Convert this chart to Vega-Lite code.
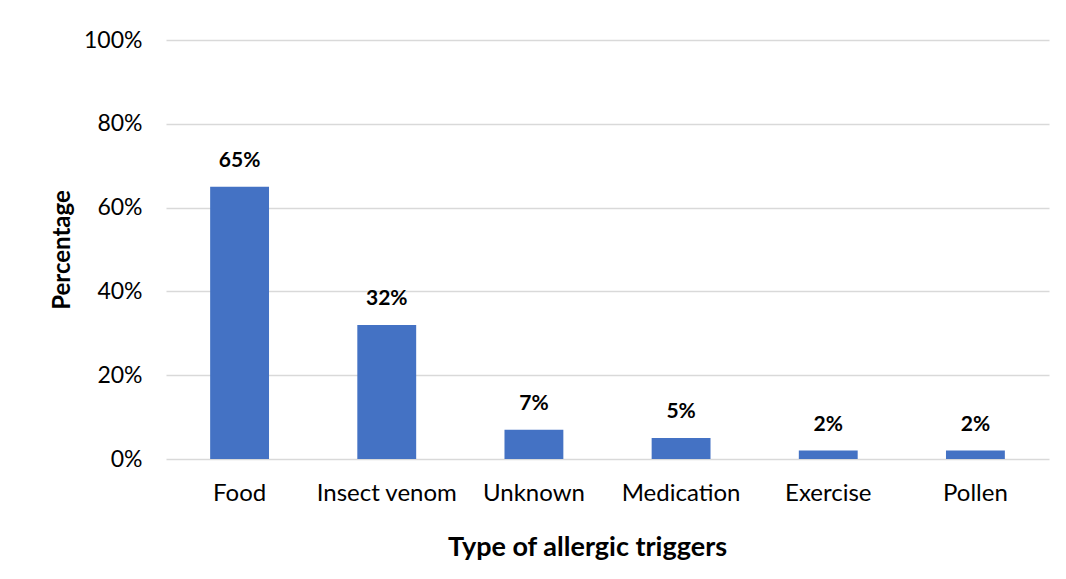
{
  "$schema": "https://vega.github.io/schema/vega-lite/v6.json",
  "autosize": "none",
  "width": 883,
  "height": 419,
  "padding": {"left": 166, "top": 40, "right": 17, "bottom": 120},
  "background": "white",
  "config": {"view": {"stroke": null}, "font": "Lato"},
  "data": {"values": [
    {"trigger": "Food", "pct": 0.65},
    {"trigger": "Insect venom", "pct": 0.32},
    {"trigger": "Unknown", "pct": 0.07},
    {"trigger": "Medication", "pct": 0.05},
    {"trigger": "Exercise", "pct": 0.02},
    {"trigger": "Pollen", "pct": 0.02}
  ]},
  "encoding": {
    "x": {"field": "trigger", "type": "nominal", "sort": null,
      "scale": {"paddingInner": 0.6, "paddingOuter": 0.3},
      "axis": {"title": "Type of allergic triggers", "labelAngle": 0, "labelFontSize": 24, "labelColor": "#000", "labelPadding": 22, "ticks": false, "domain": false, "titleFontSize": 27, "titleFontWeight": "bold", "titleColor": "#000", "titlePadding": 29, "titleX": 421}},
    "y": {"field": "pct", "type": "quantitative",
      "scale": {"domain": [0, 1]},
      "axis": {"title": "Percentage", "format": ".0%", "values": [0, 0.2, 0.4, 0.6, 0.8, 1], "labelFontSize": 23, "labelColor": "#000", "labelPadding": 24, "ticks": false, "domain": false, "gridColor": "#d9d9d9", "gridWidth": 1.5, "titleFontSize": 24, "titleFontWeight": "bold", "titleColor": "#000", "titlePadding": 9}}
  },
  "layer": [
    {"mark": {"type": "bar", "color": "#4472c4"}},
    {"mark": {"type": "text", "dy": -16, "fontSize": 21, "fontWeight": "bold", "color": "#000", "baseline": "bottom"},
     "encoding": {"text": {"field": "pct", "type": "quantitative", "format": ".0%"}}}
  ]
}
